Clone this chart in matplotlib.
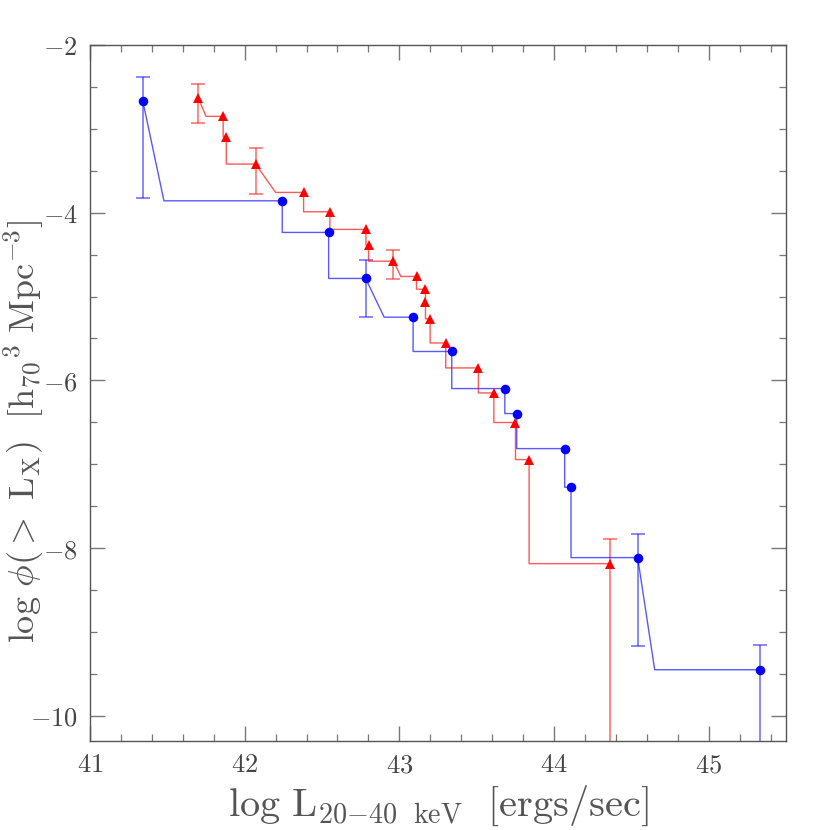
import numpy as np
import matplotlib
matplotlib.use("Agg")
import matplotlib.pyplot as plt
from matplotlib.ticker import MultipleLocator, FuncFormatter

plt.rcParams["mathtext.fontset"] = "cm"
plt.rcParams["font.family"] = "serif"

# Blue sample (circles): log L, log phi(>L)
blue_x = [41.341, 42.243, 42.543, 42.782, 43.089, 43.339, 43.682, 43.759,
          44.069, 44.110, 44.541, 45.330]
blue_y = [-2.665, -3.858, -4.235, -4.784, -5.246, -5.655, -6.097, -6.395,
          -6.813, -7.274, -8.113, -9.450]
# x where each drop to the next level ends (None = straight vertical drop)
blue_knee = [41.478, None, None, 42.902, None, None, None, None, None, None, 44.651]
blue_err_idx = [0, 3, 10, 11]
blue_err_hi = [-2.382, -4.566, -7.832, -9.156]
blue_err_lo = [-3.822, -5.246, -9.172, -11.0]

# Red sample (triangles)
red_x = [41.700, 41.861, 41.881, 42.071, 42.381, 42.551, 42.784, 42.801,
         42.962, 43.111, 43.169, 43.169, 43.199, 43.300, 43.511, 43.611,
         43.751, 43.839, 44.360]
red_y = [-2.629, -2.851, -3.094, -3.420, -3.758, -3.989, -4.199, -4.387,
         -4.578, -4.760, -4.912, -5.070, -5.266, -5.553, -5.851, -6.149,
         -6.502, -6.944, -8.185]
red_knee = [41.75, None, None, 42.20, None, None, None, None, 43.01, None,
            None, None, None, None, None, None, None, None]
red_err_idx = [0, 3, 8, 18]
red_err_hi = [-2.462, -3.229, -4.443, -7.895]
red_err_lo = [-2.931, -3.782, -4.796, -11.0]


def step_path(x, y, knee):
    px, py = [x[0]], [y[0]]
    for i in range(len(x) - 1):
        k = x[i] if knee[i] is None else knee[i]
        px += [k, x[i + 1]]
        py += [y[i + 1], y[i + 1]]
    return px, py


fig = plt.figure(figsize=(8.3, 8.3), dpi=100)
ax = fig.add_axes([90 / 830, 1 - 741 / 830, 696 / 830, 696 / 830])

series = [
    (blue_x, blue_y, blue_knee, blue_err_idx, blue_err_hi, blue_err_lo, "#0000ff", "o", 6.9),
    (red_x, red_y, red_knee, red_err_idx, red_err_hi, red_err_lo, "#ff0000", "^", 6.6),
]

for xs, ys, knee, eidx, ehi, elo, col, mk, ms in series:
    xs = np.array(xs)
    ys = np.array(ys)
    # error bars
    ex = xs[eidx]
    ey = ys[eidx]
    ax.errorbar(ex, ey, yerr=[ey - np.array(elo), np.array(ehi) - ey], fmt="none",
                ecolor=col, alpha=0.5, elinewidth=1.3, capsize=4.8, capthick=1.3, zorder=2)
    # step line
    px, py = step_path(xs, ys, knee)
    ax.plot(px, py, color=col, alpha=0.65, lw=1.0, zorder=3)
    # markers
    ax.plot(xs, ys, ls="none", marker=mk, color=col, markersize=ms,
            markeredgewidth=0, zorder=4)

ax.set_xlim(41, 45.5)
ax.set_ylim(-10.3, -2)

ax.xaxis.set_major_locator(MultipleLocator(1))
ax.xaxis.set_minor_locator(MultipleLocator(0.2))
ax.yaxis.set_major_locator(MultipleLocator(2))
ax.yaxis.set_minor_locator(MultipleLocator(0.5))
fmt = FuncFormatter(lambda v, _: r"$%d$" % round(v))
ax.xaxis.set_major_formatter(fmt)
ax.yaxis.set_major_formatter(fmt)

ax.tick_params(which="both", direction="in", top=True, right=True,
               color="#777777", labelcolor="#444444", labelsize=19)
ax.tick_params(which="major", length=11, width=1.0)
ax.tick_params(axis="x", which="major", pad=8)
ax.tick_params(axis="y", which="major", pad=9)
ax.tick_params(which="minor", length=5, width=0.9)
for s in ax.spines.values():
    s.set_color("#555555")
    s.set_linewidth(1.0)

ax.set_xlabel(r"$\mathrm{log\ L_{20{-}40\ \ keV}\ \ [ergs/sec]}$",
              fontsize=29, color="#555555")
ax.set_ylabel(r"$\mathrm{log}\ \phi(>\ \mathrm{L_X})\ \ [\mathrm{h}_{70}{}^{3}\ \mathrm{Mpc}^{-3}]$",
              fontsize=26, color="#555555")
ax.xaxis.set_label_coords(0.5, -0.062)
ax.yaxis.set_label_coords(-0.063, 0.445)

fig.savefig("out.png", dpi=100)
